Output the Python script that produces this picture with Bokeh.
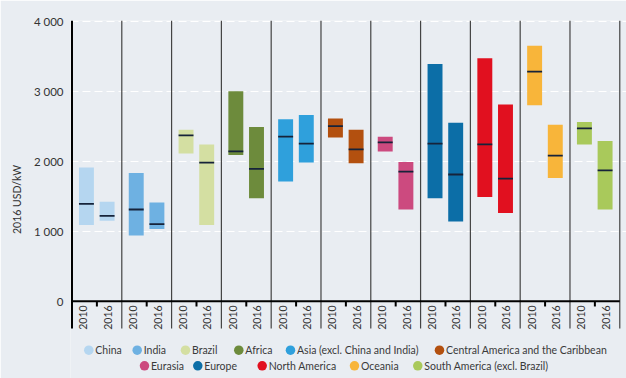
import numpy as np
from bokeh.plotting import figure
from bokeh.models import FixedTicker
from bokeh.core.properties import value
from bokeh.embed import file_html
from bokeh.resources import INLINE

regions = ["China", "India", "Brazil", "Africa", "Asia (excl. China and India)",
           "Central America and the Caribbean", "Eurasia", "Europe", "North America",
           "Oceania", "South America (excl. Brazil)"]
colors = ["#b5d6f0", "#6eb1e2", "#d4dfa2", "#6d8b3c", "#2fa0dc", "#b3500f",
          "#cc4a7f", "#0c6ea7", "#e1101f", "#f8b53a", "#a9c95b"]

low_2010 = [1090, 940, 2110, 2090, 1710, 2340, 2140, 1470, 1490, 2800, 2240]
high_2010 = [1910, 1830, 2450, 3000, 2600, 2610, 2350, 3390, 3470, 3650, 2560]
med_2010 = [1390, 1310, 2370, 2140, 2350, 2500, 2270, 2250, 2240, 3280, 2470]
low_2016 = [1150, 1030, 1090, 1470, 1980, 1970, 1310, 1140, 1260, 1760, 1310]
high_2016 = [1420, 1410, 2240, 2490, 2660, 2450, 1990, 2550, 2810, 2520, 2290]
med_2016 = [1220, 1100, 1980, 1890, 2250, 2170, 1850, 1810, 1750, 2080, 1870]

years = ["2010", "2016"]
y_ticks = [0, 1000, 2000, 3000, 4000]
y_tick_labels = ["0", "1 000", "2 000", "3 000", "4 000"]

# legend layout (screen pixels of swatch centres, two centred rows)
legend_px = [88.3, 136.7, 185.0, 238.3, 290.0, 439.0, 144.0, 197.3, 261.7, 354.0, 417.3]
legend_row = [0, 0, 0, 0, 0, 0, 1, 1, 1, 1, 1]
row_py = [349.7, 365.3]

FONT = "Lato"
BG = "#e9edf2"

n = len(regions)
idx = np.arange(n)
x10 = idx + 0.29
x16 = idx + 0.705
bw = 0.30

Y_TOP = 4010
Y_BOT = -1104
Y_SEP_BOT = -390
X0_PX, UNIT_PX = 71.5, 49.8          # screen x of group 0 and pixels per group
Y0_PX, PX_PER_Y = 300.7, 0.07         # screen y of value 0 and pixels per USD/kW

p = figure(width=626, height=378, x_range=(-0.03, 11.135), y_range=(Y_BOT, Y_TOP),
           output_backend="svg", toolbar_location=None,
           min_border_left=70, min_border_right=0, min_border_top=20, min_border_bottom=0)
p.background_fill_color = BG
p.border_fill_color = BG
p.outline_line_color = None

p.xaxis.visible = False
p.xgrid.visible = False
p.ygrid.ticker = FixedTicker(ticks=y_ticks[1:])
p.ygrid.grid_line_color = "white"
p.ygrid.grid_line_dash = "8 4"
p.ygrid.grid_line_width = 1

ax = p.yaxis[0]
ax.ticker = FixedTicker(ticks=y_ticks)
ax.major_label_overrides = {t: l for t, l in zip(y_ticks, y_tick_labels)}
ax.major_tick_line_color = None
ax.minor_tick_line_color = None
ax.major_tick_out = 0
ax.major_tick_in = 0
ax.major_label_standoff = 7
ax.axis_line_color = None
ax.major_label_text_font = FONT
ax.major_label_text_font_size = "11.5px"
ax.major_label_text_color = "#333333"
ax.axis_label = "2016 USD/kW"
ax.axis_label_text_font = FONT
ax.axis_label_text_font_size = "10.5px"
ax.axis_label_text_font_style = "normal"
ax.axis_label_text_color = "#333333"
ax.axis_label_standoff = 8

# bars
p.vbar(x=x10, bottom=low_2010, top=high_2010, width=bw, color=colors, line_color=None)
p.vbar(x=x16, bottom=low_2016, top=high_2016, width=bw, color=colors, line_color=None)
# medians
p.segment(x0=x10 - bw / 2, x1=x10 + bw / 2, y0=med_2010, y1=med_2010, line_color="#16233a", line_width=1.8)
p.segment(x0=x16 - bw / 2, x1=x16 + bw / 2, y0=med_2016, y1=med_2016, line_color="#16233a", line_width=1.8)

# separators, axis lines, ticks
sep = np.arange(1, n + 1)
p.segment(x0=sep, x1=sep, y0=Y_SEP_BOT, y1=Y_TOP, line_color="#444444", line_width=1.2)
p.segment(x0=[0], x1=[0], y0=[Y_SEP_BOT], y1=[Y_TOP], line_color="black", line_width=2)
p.segment(x0=[0], x1=[n], y0=[0], y1=[0], line_color="black", line_width=2)
mid = idx + 0.5
p.segment(x0=mid, x1=mid, y0=0, y1=-75, line_color="black", line_width=2)

# year labels
lab_x = np.concatenate([idx + 0.23, idx + 0.72])
lab_t = [years[0]] * n + [years[1]] * n
p.text(x=lab_x, y=-60, text=lab_t, angle=np.pi / 2, text_align="right",
       text_baseline="middle", text_font=value(FONT), text_font_size="10.5px",
       text_color="#333333")

# legend: circle swatches + labels
lx = (np.array(legend_px) - X0_PX) / UNIT_PX
ly = -(np.array([row_py[r] for r in legend_row]) - Y0_PX) / PX_PER_Y
p.scatter(x=lx, y=ly, marker="circle", size=9.5, color=colors, line_color=None)
p.text(x=lx + 6.5 / UNIT_PX, y=ly, text=regions, text_align="left", text_baseline="middle",
       text_font=value(FONT), text_font_size="10.5px", text_color="#3a3a3a")

open("out.html", "w").write(file_html(p, INLINE))
